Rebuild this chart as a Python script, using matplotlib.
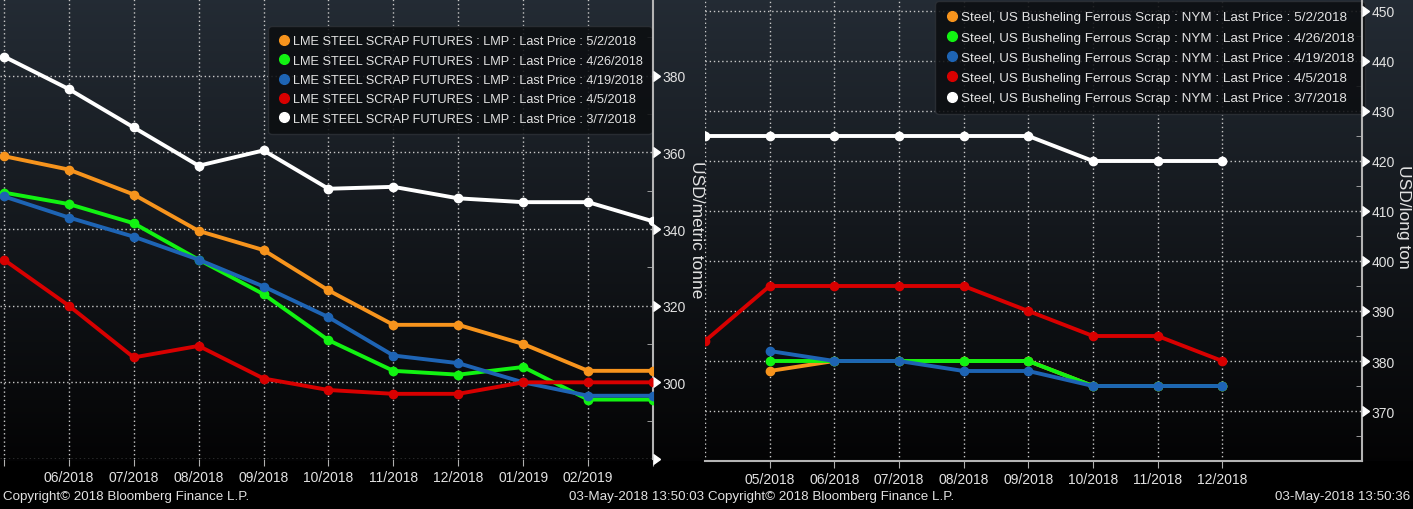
import numpy as np
import matplotlib
matplotlib.use("Agg")
import matplotlib.pyplot as plt
from matplotlib.lines import Line2D
from matplotlib.markers import CARETRIGHTBASE

# LME steel scrap futures curve (USD/metric tonne), contracts 05/2018 .. 03/2019
lme_months = ["05/2018", "06/2018", "07/2018", "08/2018", "09/2018", "10/2018",
              "11/2018", "12/2018", "01/2019", "02/2019", "03/2019"]
lme_may02 = [359, 355.5, 349, 339.5, 334.5, 324, 315, 315, 310, 303, 303]
lme_apr26 = [349.5, 346.5, 341.5, 332, 323, 311, 303, 302, 304, 295.5, 295.5]
lme_apr19 = [348.5, 343, 338, 332, 325, 317, 307, 305, 300, 296.5, 296.5]
lme_apr05 = [332, 320, 306.5, 309.5, 301, 298, 297, 297, 300, 300, 300]
lme_mar07 = [385, 376.5, 366.5, 356.5, 360.5, 350.5, 351, 348, 347, 347, 342]
lme_dates = ["5/2/2018", "4/26/2018", "4/19/2018", "4/5/2018", "3/7/2018"]

# NYMEX US busheling ferrous scrap (USD/long ton), contracts 04/2018 .. 12/2018
nym_months = ["04/2018", "05/2018", "06/2018", "07/2018", "08/2018", "09/2018",
              "10/2018", "11/2018", "12/2018"]
nym_may02 = [np.nan, 378, 380, 380, 380, 380, 375, 375, 375]
nym_apr26 = [np.nan, 380, 380, 380, 380, 380, 375, 375, 375]
nym_apr19 = [np.nan, 382, 380, 380, 378, 378, 375, 375, 375]
nym_apr05 = [384, 395, 395, 395, 395, 390, 385, 385, 380]
nym_mar07 = [425, 425, 425, 425, 425, 425, 420, 420, 420]
nym_dates = ["5/2/2018", "4/26/2018", "4/19/2018", "4/5/2018", "3/7/2018"]

lme_ticks = [280, 300, 320, 340, 360, 380]
lme_labels = [300, 320, 340, 360, 380]
nym_ticks = [370, 380, 390, 400, 410, 420, 430, 440, 450]

COLORS = ["#f7941d", "#12f312", "#1e64b4", "#d80000", "#ffffff"]
TXT = "#e2e2e2"
GRID = "#c8c8c8"

plt.rcParams["font.family"] = ["Liberation Sans", "DejaVu Sans"]

W, H = 1413, 510


def gradient(fig, rect):
    """Dark blue-grey to black backdrop like the terminal"""
    bg = fig.add_axes(rect, zorder=-10)
    top = np.array([0.14, 0.17, 0.205])
    bot = np.array([0.015, 0.015, 0.018])
    t = np.linspace(0, 1, 256)[:, None]
    img = top * (1 - t) + bot * t
    bg.imshow(img[:, None, :], aspect="auto", extent=[0, 1, 0, 1])
    bg.set_axis_off()


def draw_panel(ax, months, series, dates, title, ticks, labels, xlim, ylim, shown, ylabel):
    """One Bloomberg style curve panel, y axis on the right"""
    x = np.arange(len(months))
    for vals, col in zip(series, COLORS):
        ax.plot(x, vals, color=col, lw=2.8, marker="o", ms=6, mec=col, zorder=3)
    ax.set_facecolor("none")
    ax.set_xlim(*xlim)
    ax.set_ylim(*ylim)

    ax.set_xticks(x)
    ax.set_xticklabels([m if i in shown else "" for i, m in enumerate(months)])
    ax.grid(True, color=GRID, ls=(0, (1, 2)), lw=1)
    ax.set_axisbelow(True)
    ax.tick_params(axis="x", colors="#b0b0b0", labelcolor=TXT, labelsize=10,
                   length=5, pad=3)

    ax.yaxis.tick_right()
    ax.yaxis.set_label_position("right")
    ax.set_yticks(ticks)
    ax.set_yticklabels([str(t) if t in labels else "" for t in ticks])
    ax.set_yticks(np.arange(ylim[0] // 5 * 5, ylim[1], (ticks[1] - ticks[0]) / 2), minor=True)
    ax.tick_params(axis="y", which="major", length=0, pad=7, labelcolor=TXT, labelsize=10)
    ax.tick_params(axis="y", which="minor", direction="in", length=4, color="#b0b0b0")
    ax.plot([1] * len(ticks), ticks, ls="none", marker=CARETRIGHTBASE, ms=7,
            color="white", transform=ax.get_yaxis_transform(), clip_on=False, zorder=5)
    ax.set_ylabel(ylabel, rotation=270, color=TXT, fontsize=12.5, va="center")

    for s in ["top", "left"]:
        ax.spines[s].set_visible(False)
    for s in ["right", "bottom"]:
        ax.spines[s].set_color("#b4b4b4")
        ax.spines[s].set_linewidth(1.5)

    handles = [Line2D([], [], ls="none", marker="o", ms=7, color=c) for c in COLORS]
    names = [f"{title} : Last Price : {d}" for d in dates]
    return handles, names


def add_legend(ax, h, n, anchor, size):
    leg = ax.legend(h, n, loc="upper left", bbox_to_anchor=anchor,
                    borderaxespad=0, fontsize=size, labelcolor=TXT,
                    facecolor="#0c0e11", edgecolor="#2c3036", framealpha=0.88,
                    handletextpad=0.2, handlelength=1.0, labelspacing=0.58,
                    borderpad=0.75, fancybox=True)
    leg.set_zorder(1)
    leg.get_frame().set_boxstyle("round", pad=0, rounding_size=0.3)


def main():
    fig = plt.figure(figsize=(W / 100, H / 100), dpi=100, facecolor="black")
    gradient(fig, [0, 48 / H, 1, 1 - 48 / H])

    ax1 = fig.add_axes([0, 50 / H, 653 / W, 460 / H])
    h, n = draw_panel(ax1, lme_months,
                      [lme_may02, lme_apr26, lme_apr19, lme_apr05, lme_mar07],
                      lme_dates, "LME STEEL SCRAP FUTURES : LMP",
                      lme_ticks, lme_labels, (-0.06, 9.73), (280, 400),
                      range(1, 10), "USD/metric tonne")
    ax1.spines["bottom"].set_visible(False)
    ax1.yaxis.set_label_coords(1 + 43 / 653, 0.5)
    add_legend(ax1, h, n, (0.41, 0.942), 9.2)

    ax2 = fig.add_axes([705 / W, 48 / H, 657 / W, 462 / H])
    h, n = draw_panel(ax2, nym_months,
                      [nym_may02, nym_apr26, nym_apr19, nym_apr05, nym_mar07],
                      nym_dates, "Steel, US Busheling Ferrous Scrap : NYM",
                      nym_ticks, nym_ticks, (0.613, 10.16), (360.5, 452.4),
                      range(1, 9), "USD/long ton")
    ax2.yaxis.set_label_coords(1 + 42 / 657, 0.53)
    ax2.xaxis.get_major_ticks()[0].tick1line.set_visible(False)
    add_legend(ax2, h, n, (0.35, 0.996), 9.7)

    # footer
    fy = 1 - 497 / H
    for x0, x1, stamp in [(3, 704, "03-May-2018 13:50:03"), (708, 1410, "03-May-2018 13:50:36")]:
        fig.text(x0 / W, fy, "Copyright\u00a9 2018 Bloomberg Finance L.P.", color=TXT,
                 fontsize=9.6, va="center", ha="left")
        fig.text(x1 / W, fy, stamp, color=TXT, fontsize=9.6, va="center", ha="right")

    fig.savefig("out.png", dpi=100, facecolor="black")
    plt.close(fig)


if __name__ == "__main__":
    main()
